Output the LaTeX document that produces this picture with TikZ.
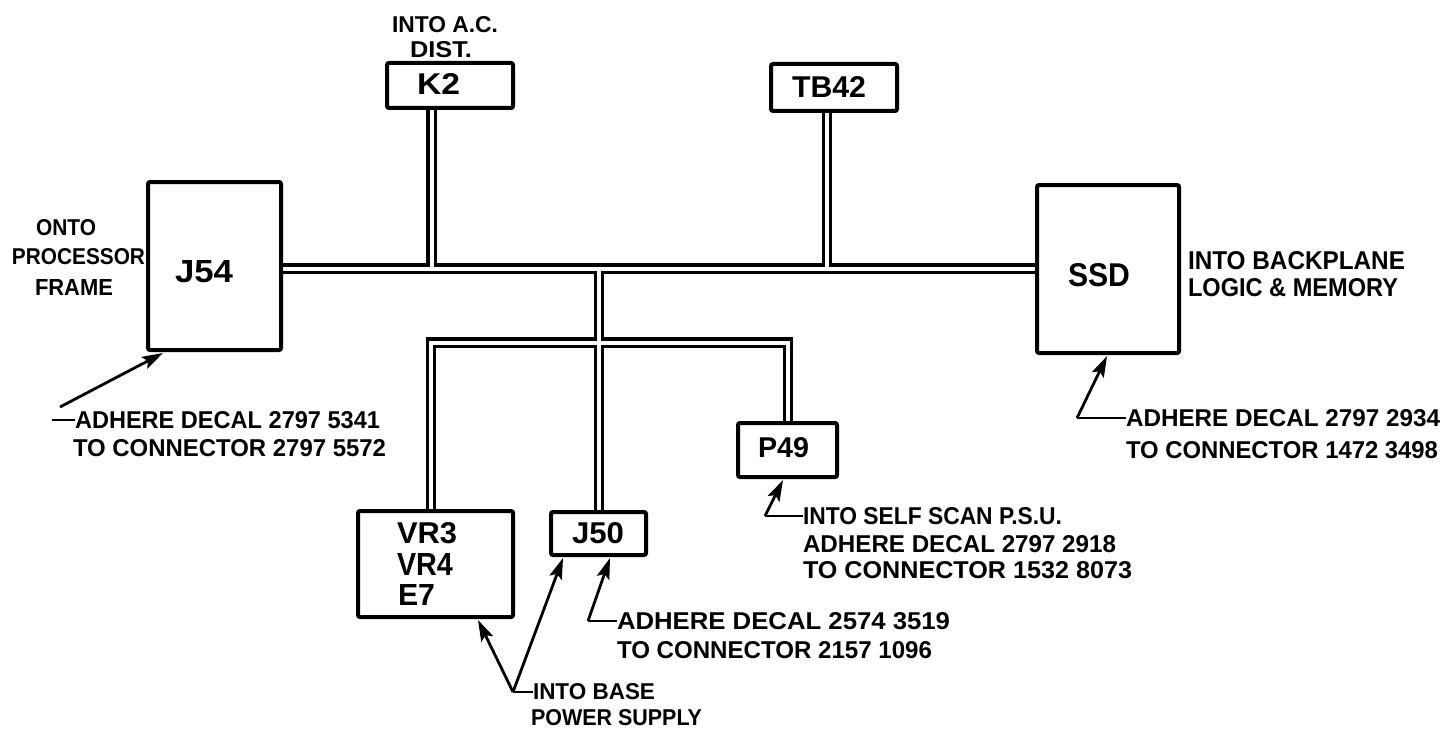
\documentclass[tikz,border=0pt]{standalone}
\usepackage{fontspec}
\usepackage{graphicx}
\setmainfont{Liberation Sans}[BoldFont={Liberation Sans Bold}]
\usetikzlibrary{arrows.meta,calc}
\pgfdeclarelayer{wires}
\pgfsetlayers{wires,main}
\newcommand{\lbl}[3]{\resizebox{#1pt}{#2pt}{\bfseries #3}}
\tikzset{
  x=1pt,y=-1pt,
  boxnode/.style={draw=black,fill=white,line width=4pt,rounded corners=2pt,inner sep=0pt,outer sep=0pt},
  txt/.style={inner sep=0pt,outer sep=0pt,anchor=west,text=black},
  wire/.style={draw=white,line width=4pt,preaction={draw=black,line width=10.5pt}},
  leader/.style={draw=black,line width=2.8pt,line join=round},
  tipped/.style={leader,-{Stealth[length=21pt,width=13pt,inset=4pt]}}
}
\begin{document}
\begin{tikzpicture}
\useasboundingbox (0,0) rectangle (1450,733);
% boxes
\node[boxnode,minimum width=133pt,minimum height=168pt] (J54) at (214.5,266) {};
\node[boxnode,minimum width=142pt,minimum height=168pt] (SSD) at (1108,269) {};
\node[boxnode,minimum width=126pt,minimum height=45pt] (K2) at (450,85.5) {};
\node[boxnode,minimum width=126pt,minimum height=47pt] (TB42) at (834,87.5) {};
\node[boxnode,minimum width=155pt,minimum height=106pt] (VR) at (435.5,564) {};
\node[boxnode,minimum width=95pt,minimum height=43pt] (J50) at (598.5,533.5) {};
\node[boxnode,minimum width=99pt,minimum height=54pt] (P49) at (787.5,450) {};
% box texts
\node[txt] (tJ54) at (175,272) {\lbl{58}{22}{J54}};
\node[txt] (tSSD) at (1068,275) {\lbl{62}{23}{SSD}};
\node[txt] (tK2) at (417,84) {\lbl{43}{21}{K2}};
\node[txt] (tTB) at (792,87) {\lbl{74}{21}{TB42}};
\node[txt] (tV3) at (397,533) {\lbl{60}{21}{VR3}};
\node[txt] (tV4) at (397,564) {\lbl{56}{22}{VR4}};
\node[txt] (tE7) at (398,595) {\lbl{37}{21}{E7}};
\node[txt] (tJ50) at (572,533) {\lbl{52}{21}{J50}};
\node[txt] (tP49) at (758,448) {\lbl{51}{20}{P49}};
% labels
\node[txt] (l1) at (392,25) {\lbl{106}{16}{INTO A.C.}};
\node[txt] (l2) at (410,50) {\lbl{62}{16}{DIST.}};
\node[txt] (l3) at (36,228) {\lbl{60}{16}{ONTO}};
\node[txt] (l4) at (12,257) {\lbl{133}{16}{PROCESSOR}};
\node[txt] (l5) at (35,287) {\lbl{78}{16}{FRAME}};
\node[txt] (l6) at (1188,261) {\lbl{217}{18}{INTO BACKPLANE}};
\node[txt] (l7) at (1188,288) {\lbl{210}{18}{LOGIC \& MEMORY}};
\node[txt] (l8) at (75,420) {\lbl{305}{17}{ADHERE DECAL 2797 5341}};
\node[txt] (l9) at (73,448) {\lbl{313}{17}{TO CONNECTOR 2797 5572}};
\node[txt] (l10) at (1126,418) {\lbl{314}{17}{ADHERE DECAL 2797 2934}};
\node[txt] (l11) at (1126,450) {\lbl{312}{17}{TO CONNECTOR 1472 3498}};
\node[txt] (l12) at (803,516) {\lbl{259}{17}{INTO SELF SCAN P.S.U.}};
\node[txt] (l13) at (803,544) {\lbl{313}{17}{ADHERE DECAL 2797 2918}};
\node[txt] (l14) at (803,570) {\lbl{329}{17}{TO CONNECTOR 1532 8073}};
\node[txt] (l15) at (617,621) {\lbl{333}{17}{ADHERE DECAL 2574 3519}};
\node[txt] (l16) at (617,650) {\lbl{315}{17}{TO CONNECTOR 2157 1096}};
\node[txt] (l17) at (533,692) {\lbl{122}{16}{INTO BASE}};
\node[txt] (l18) at (531,718) {\lbl{171}{16}{POWER SUPPLY}};
% junctions
\coordinate (jK) at (431.5,268.5);
\coordinate (jT) at (827,268.5);
\coordinate (jC) at (599,268.5);
\coordinate (cV) at (431,342.5);
\coordinate (cP) at (788,342.5);
% double-line cable
\begin{pgfonlayer}{wires}
\fill[white] (0,0) rectangle (1450,733);
\path[wire] (J54.east |- jC) -- (SSD.west |- jC)
  (jK |- K2.south) -- (jK)
  (jT |- TB42.south) -- (jT)
  (jC) -- (jC |- J50.north)
  (cV |- VR.north) -- (cV) -- (cP) -- (cP |- P49.north);
\end{pgfonlayer}
% leaders
\coordinate (a1) at (60,407);
\coordinate (a1b) at (52,420);
\coordinate (a2) at (1077,418);
\coordinate (a3) at (588,621);
\coordinate (a4) at (513,692);
\coordinate (a5) at (765,516);
\draw[tipped] (a1) -- ($(J54.south west)+(15,3)$);
\draw[leader] (a1b) -- (l8.west);
\draw[tipped] (a2) -- ($(SSD.south west)+(70,3)$);
\draw[leader] (a2) -- (l10.west);
\draw[tipped] (a3) -- ($(J50.south west)+(59,3)$);
\draw[leader] (a3) -- (l15.west);
\draw[tipped] (a4) -- ($(J50.south west)+(12,3)$);
\draw[tipped] (a4) -- ($(VR.south west)+(120,3)$);
\draw[leader] (a4) -- (l17.west);
\draw[tipped] (a5) -- ($(P49.south west)+(45,3)$);
\draw[leader] (a5) -- (l12.west);
\end{tikzpicture}
\end{document}
